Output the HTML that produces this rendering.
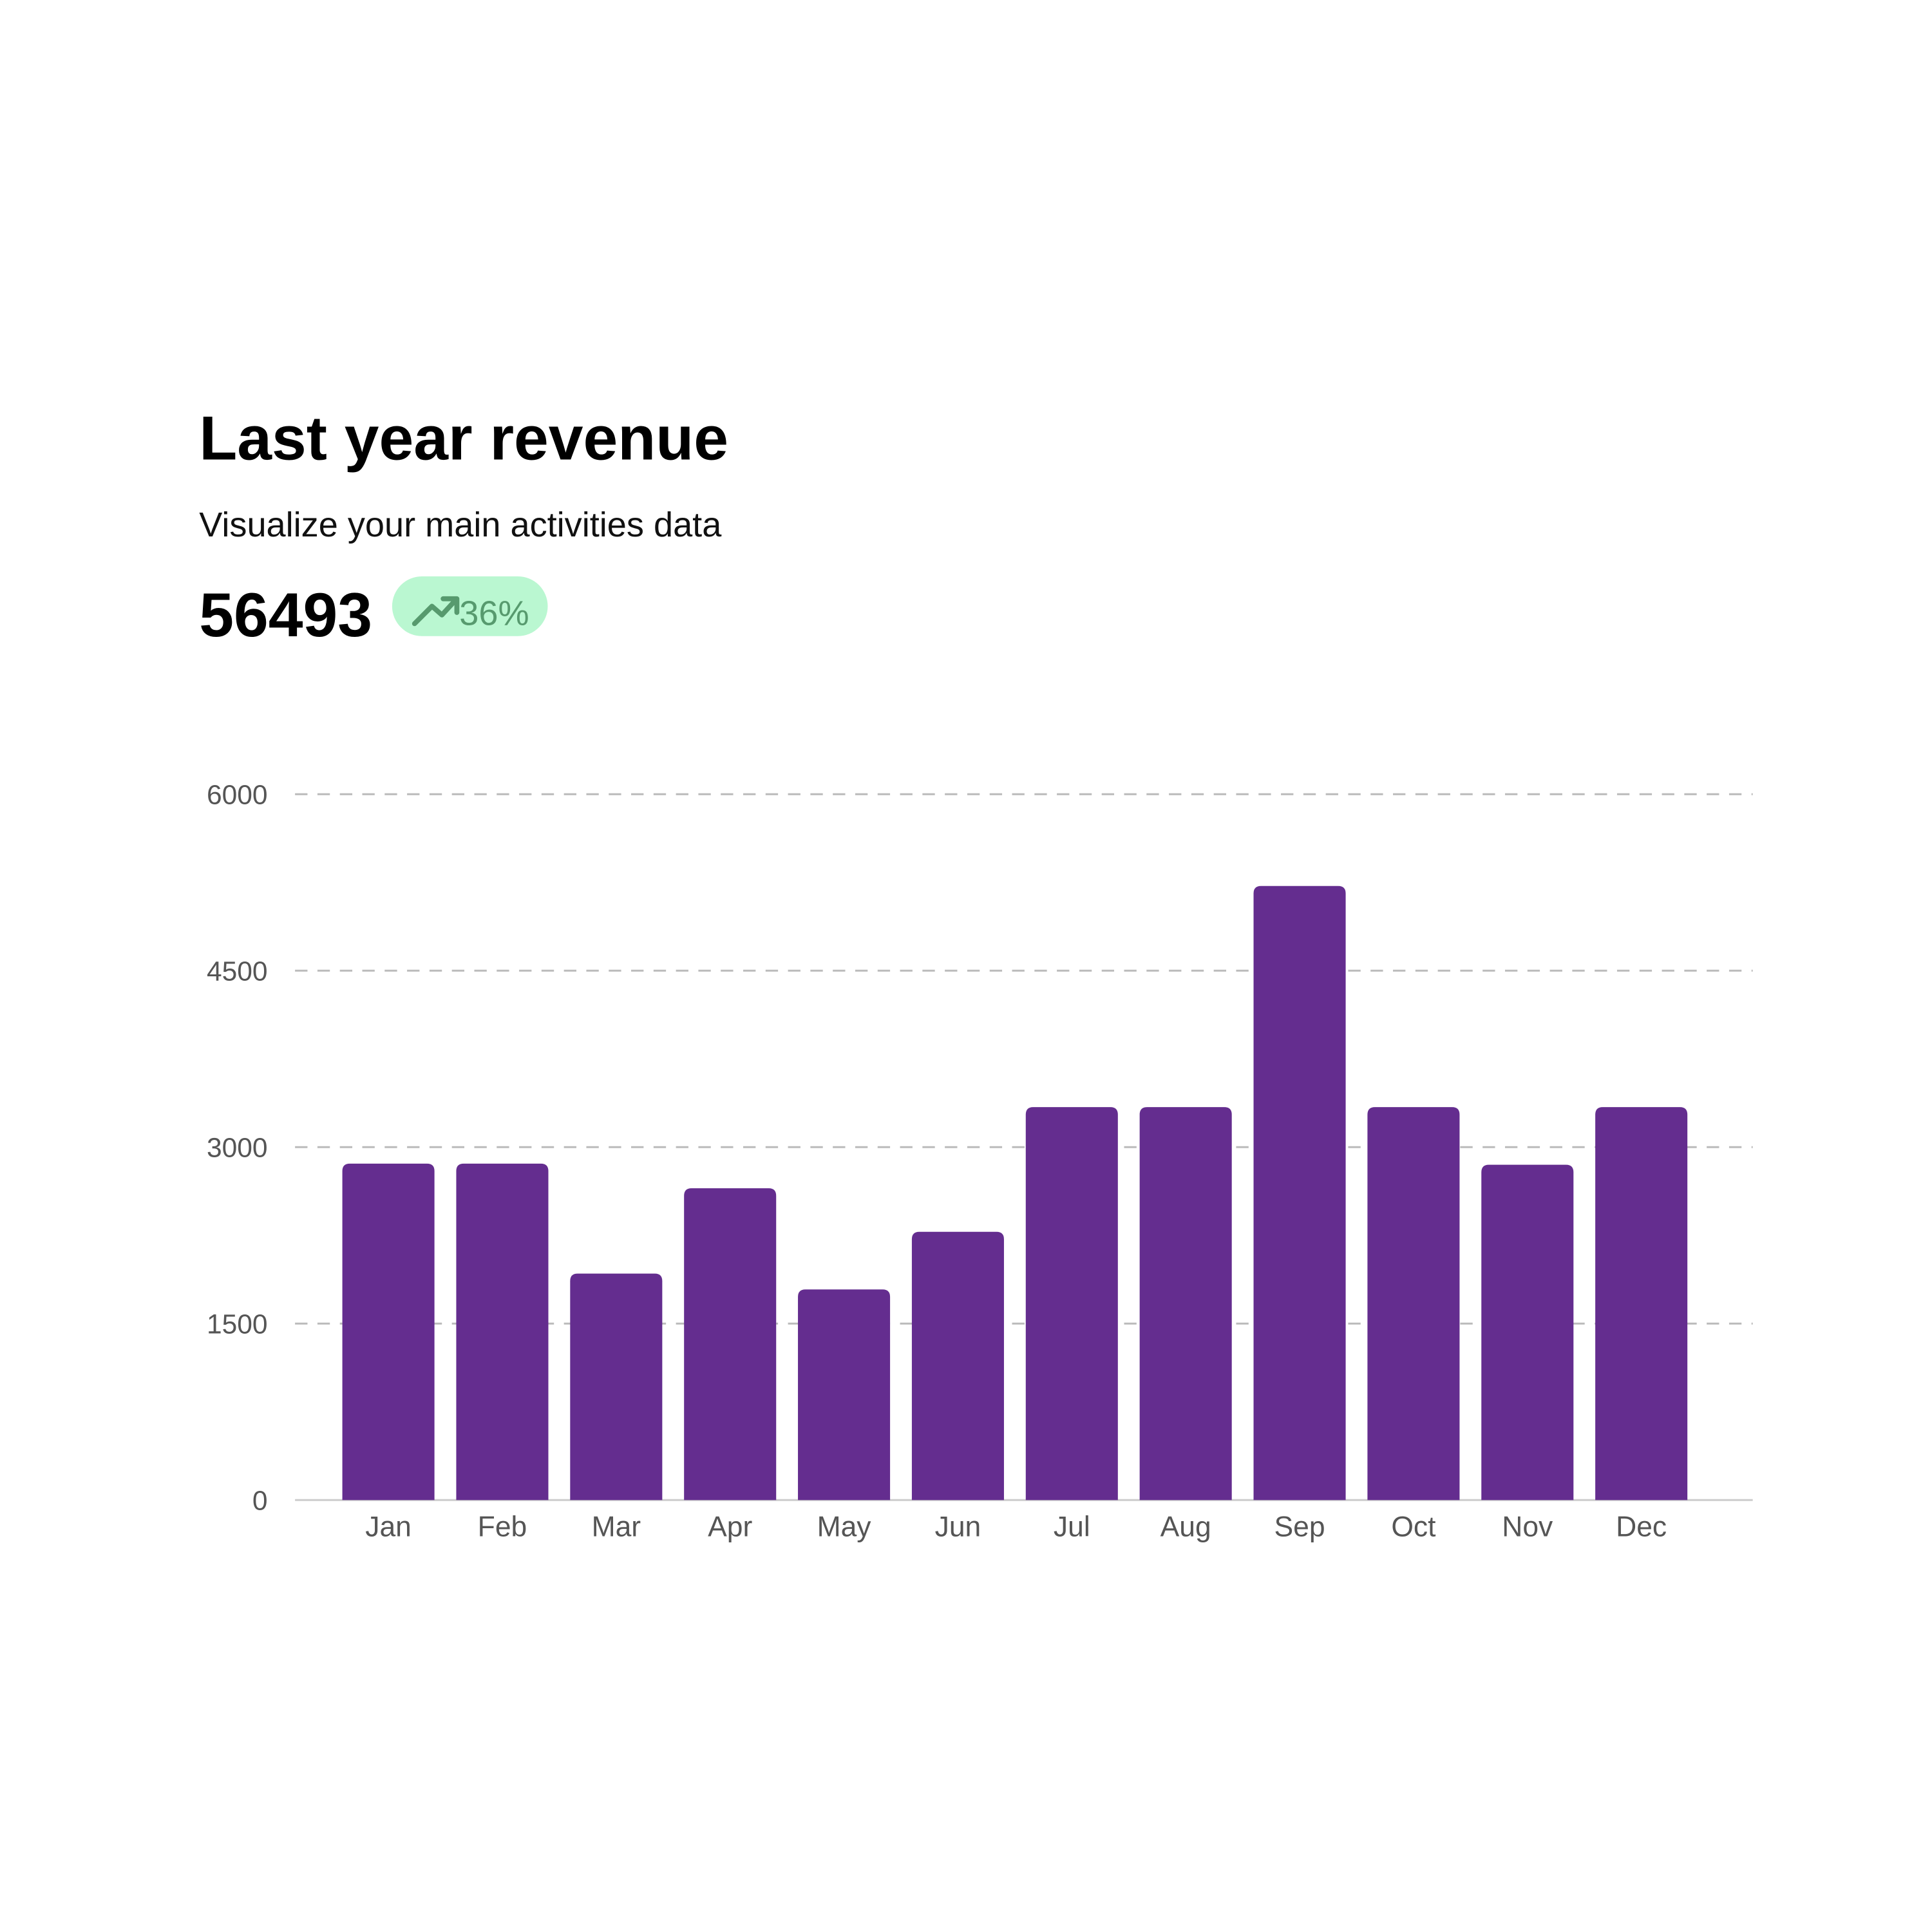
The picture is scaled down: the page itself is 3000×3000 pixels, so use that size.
<!DOCTYPE html>
<html><head><meta charset="utf-8"><style>
html,body{margin:0;padding:0;background:#fff;}
svg{display:block;font-family:"Liberation Sans",sans-serif;}
</style></head><body>
<svg id="chart" width="3000" height="3000" viewBox="0 0 1552 1552" xmlns="http://www.w3.org/2000/svg">
<text x="160" y="369" font-size="50" font-weight="bold" fill="#000">Last year revenue</text>
<text x="160" y="431" font-size="28" fill="#111">Visualize your main activities data</text>
<text x="160" y="511" font-size="50" font-weight="bold" fill="#000">56493</text>
<g>
<rect x="315" y="463" width="125" height="48" rx="24" fill="#baf7d1"/>
<polyline points="333,501 347,487 355,494 366,482" fill="none" stroke="#579a6e" stroke-width="4" stroke-linecap="round" stroke-linejoin="round"/>
<polyline points="356,481 367,481 367,492" fill="none" stroke="#579a6e" stroke-width="4" stroke-linecap="round" stroke-linejoin="round"/>
<text x="369" y="502" font-size="28" fill="#579a6e">36%</text>
</g>
<g id="grid"></g><g id="bars"></g><g id="labels"></g>
</svg>
<script>
const months=["Jan","Feb","Mar","Apr","May","Jun","Jul","Aug","Sep","Oct","Nov","Dec"];
const revenue=[2860,2860,1925,2650,1790,2280,3340,3340,5220,3340,2850,3340];
const yTicks=[0,1500,3000,4500,6000];
const NS="http://www.w3.org/2000/svg";
const y0=1205,yTop=638,yMax=6000,xL=237,xR=1408,firstX=275,step=91.5,bw=74;
function y(v){return y0-(v/yMax)*(y0-yTop);}
function mk(t,a,p){const e=document.createElementNS(NS,t);for(const k in a)e.setAttribute(k,a[k]);p.appendChild(e);return e;}
const grid=document.getElementById('grid'),bars=document.getElementById('bars'),labels=document.getElementById('labels');
yTicks.forEach(v=>{
 const l=mk('line',{x1:xL,x2:xR,y1:y(v),y2:y(v),stroke:v===0?'#ccc':'#bbb','stroke-width':v===0?1.5:1.5,'stroke-dasharray':v===0?'none':'10 8'},grid);
 
 
 const t=mk('text',{x:215,y:y(v)+8,'text-anchor':'end','font-size':22,fill:'#555'},labels);
 t.textContent=v;
 
 
});
months.forEach((m,i)=>{
 const x=firstX+i*step,top=y(revenue[i]),r=6,h=y0-top;
 const p=mk('path',{d:`M${x},${y0}V${top+r}Q${x},${top} ${x+r},${top}H${x+bw-r}Q${x+bw},${top} ${x+bw},${top+r}V${y0}Z`,fill:'#642d8f'},bars);
 
 
 const t=mk('text',{x:x+bw/2,y:1234,'text-anchor':'middle','font-size':23,fill:'#555'},labels);
 t.textContent=m;
 
 
});
</script>
</body></html>
